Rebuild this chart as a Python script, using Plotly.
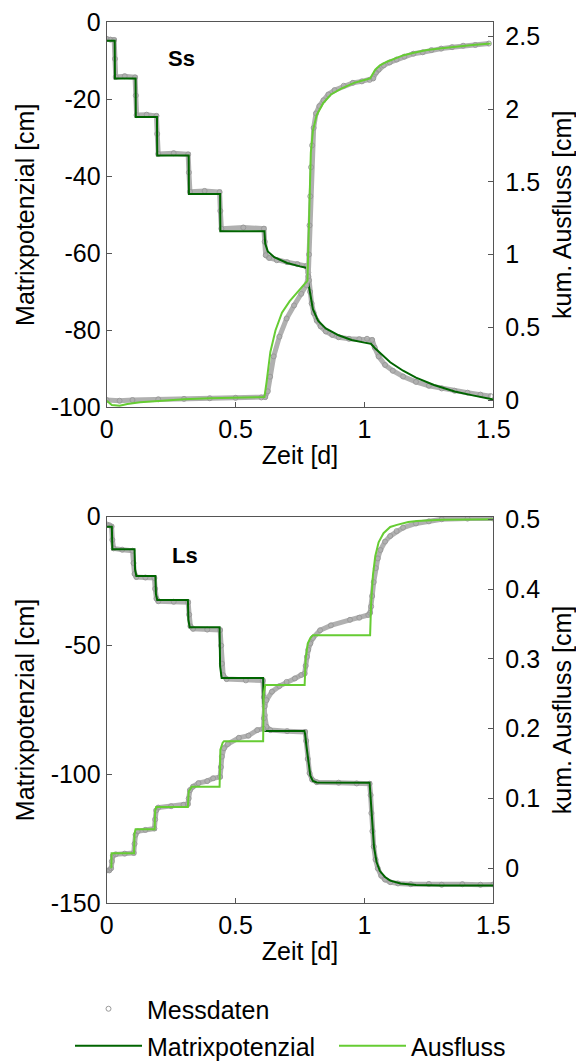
import plotly.graph_objects as go

# ---------------- Data: Ss (top panel) ----------------
ss_meas_pot_t = [0.0, 0.015, 0.029, 0.032, 0.035, 0.07, 0.11, 0.113, 0.116, 0.155, 0.193, 0.196, 0.2,
                 0.26, 0.316, 0.319, 0.323, 0.38, 0.438, 0.441, 0.445, 0.53, 0.61, 0.613, 0.617, 0.63,
                 0.66, 0.7, 0.74, 0.775, 0.782, 0.785, 0.789, 0.795, 0.803, 0.815, 0.83, 0.85, 0.875,
                 0.9, 0.94, 0.98, 1.01, 1.03, 1.04, 1.055, 1.08, 1.11, 1.15, 1.2, 1.25, 1.3, 1.35, 1.4,
                 1.45, 1.49]
ss_meas_pot = [-4.3, -4.5, -4.6, -9.5, -14.2, -14.0, -14.3, -19.0, -24.1, -24.0, -24.3, -29.0, -34.2,
               -34.0, -34.3, -39.0, -44.0, -43.8, -44.1, -49.0, -53.6, -53.3, -53.6, -57.0, -60.5, -61.2,
               -61.8, -62.3, -62.8, -63.3, -65.0, -67.0, -70.0, -73.0, -75.5, -77.5, -79.0, -80.3, -81.2,
               -81.8, -82.2, -82.3, -82.2, -82.5, -84.5, -86.8, -89.0, -90.5, -92.0, -93.4, -94.4, -95.1,
               -95.7, -96.2, -96.7, -97.1]

ss_meas_out_t = [0.0, 0.05, 0.1, 0.2, 0.3, 0.4, 0.5, 0.6, 0.615, 0.625, 0.634, 0.648, 0.67, 0.698,
                 0.727, 0.755, 0.775, 0.782, 0.785, 0.787, 0.79, 0.793, 0.797, 0.803, 0.812, 0.825,
                 0.841, 0.86, 0.884, 0.92, 0.955, 0.99, 1.02, 1.034, 1.045, 1.055, 1.075, 1.098, 1.125,
                 1.155, 1.19, 1.226, 1.26, 1.298, 1.34, 1.383, 1.43, 1.483]
ss_meas_out = [0.0, -0.005, 0.0, 0.005, 0.008, 0.012, 0.015, 0.018, 0.02, 0.06, 0.16, 0.3, 0.435, 0.56,
               0.65, 0.73, 0.79, 0.85, 1.0, 1.2, 1.4, 1.6, 1.75, 1.87, 1.97, 2.02, 2.06, 2.1, 2.13, 2.16,
               2.18, 2.19, 2.2, 2.21, 2.25, 2.27, 2.3, 2.32, 2.34, 2.36, 2.38, 2.39, 2.405, 2.415, 2.425,
               2.435, 2.44, 2.45]

ss_mod_pot_t = [0.0, 0.031, 0.032, 0.112, 0.113, 0.195, 0.196, 0.318, 0.319, 0.44, 0.441, 0.612, 0.615,
                0.625, 0.65, 0.7, 0.75, 0.777, 0.782, 0.79, 0.8, 0.82, 0.85, 0.9, 0.95, 1.0, 1.025,
                1.04, 1.07, 1.1, 1.15, 1.2, 1.27, 1.35, 1.42, 1.5]
ss_mod_pot = [-4.8, -4.8, -14.6, -14.6, -24.6, -24.6, -34.6, -34.6, -44.6, -44.6, -54.3, -54.3, -57.5,
              -59.5, -61.0, -62.5, -63.4, -63.8, -67.5, -71.0, -74.5, -77.5, -79.5, -81.3, -82.5, -83.2,
              -83.5, -84.6, -86.5, -88.3, -90.5, -92.3, -94.2, -95.9, -96.9, -98.0]

ss_mod_out_t = [0.0, 0.02, 0.05, 0.08, 0.13, 0.2, 0.3, 0.4, 0.5, 0.612, 0.62, 0.635, 0.655, 0.68, 0.71,
                0.74, 0.77, 0.779, 0.783, 0.787, 0.792, 0.8, 0.815, 0.84, 0.87, 0.91, 0.96, 1.0, 1.022,
                1.042, 1.06, 1.087, 1.12, 1.152, 1.2, 1.243, 1.3, 1.346, 1.42, 1.49]
ss_mod_out = [-0.005, -0.035, -0.04, -0.027, -0.015, -0.005, 0.005, 0.012, 0.015, 0.02, 0.12, 0.33,
              0.48, 0.6, 0.68, 0.74, 0.8, 0.82, 1.1, 1.45, 1.7, 1.85, 1.96, 2.04, 2.1, 2.14, 2.18, 2.2,
              2.21, 2.27, 2.3, 2.325, 2.35, 2.37, 2.39, 2.405, 2.418, 2.428, 2.44, 2.45]

# ---------------- Data: Ls (bottom panel) ----------------
ls_meas_pot_t = [0.0, 0.01, 0.019, 0.022, 0.027, 0.06, 0.1, 0.104, 0.108, 0.115, 0.15, 0.185, 0.188,
                 0.193, 0.2, 0.26, 0.316, 0.32, 0.325, 0.335, 0.39, 0.44, 0.444, 0.447, 0.452, 0.465,
                 0.54, 0.606, 0.61, 0.613, 0.62, 0.635, 0.7, 0.77, 0.774, 0.78, 0.787, 0.797, 0.815,
                 0.9, 0.97, 1.02, 1.024, 1.027, 1.031, 1.036, 1.043, 1.052, 1.065, 1.08, 1.1, 1.13,
                 1.18, 1.25, 1.3, 1.38, 1.45, 1.5]
ls_meas_pot = [-3.0, -3.3, -3.8, -9.0, -12.3, -12.8, -13.2, -18.0, -22.2, -23.4, -23.6, -23.8, -28.0,
               -31.8, -32.8, -33.0, -33.2, -38.0, -42.5, -43.5, -43.8, -44.0, -50.0, -57.0, -61.5, -63.0,
               -63.5, -63.6, -70.0, -77.0, -81.5, -82.8, -83.2, -83.5, -87.0, -94.0, -99.5, -102.0,
               -103.0, -103.2, -103.5, -103.6, -108.0, -115.0, -122.0, -128.0, -133.0, -136.5, -139.3,
               -140.8, -141.8, -142.3, -142.6, -142.5, -142.8, -142.6, -142.8, -142.7]

ls_meas_out_t = [0.0, 0.01, 0.017, 0.02, 0.024, 0.035, 0.07, 0.105, 0.108, 0.112, 0.12, 0.15, 0.185,
                 0.188, 0.192, 0.2, 0.25, 0.298, 0.315, 0.318, 0.323, 0.335, 0.356, 0.39, 0.413, 0.44,
                 0.443, 0.447, 0.455, 0.47, 0.513, 0.55, 0.584, 0.608, 0.61, 0.613, 0.62, 0.641, 0.67,
                 0.698, 0.73, 0.755, 0.768, 0.772, 0.777, 0.782, 0.79, 0.8, 0.828, 0.87, 0.944, 0.98,
                 1.015, 1.022, 1.026, 1.03, 1.036, 1.044, 1.052, 1.062, 1.08, 1.1, 1.125, 1.15, 1.2,
                 1.25, 1.3, 1.4, 1.5]
ls_meas_out = [-0.003, -0.003, 0.0, 0.01, 0.018, 0.02, 0.021, 0.022, 0.035, 0.048, 0.053, 0.055, 0.057,
               0.07, 0.083, 0.087, 0.089, 0.091, 0.092, 0.1, 0.112, 0.117, 0.122, 0.125, 0.129, 0.131,
               0.145, 0.16, 0.172, 0.178, 0.187, 0.19, 0.198, 0.2, 0.215, 0.232, 0.241, 0.253, 0.261,
               0.267, 0.272, 0.277, 0.279, 0.29, 0.303, 0.313, 0.322, 0.33, 0.341, 0.348, 0.356, 0.359,
               0.363, 0.366, 0.375, 0.39, 0.41, 0.43, 0.444, 0.456, 0.468, 0.476, 0.483, 0.488, 0.494,
               0.497, 0.5, 0.501, 0.501]

ls_mod_pot_t = [0.0, 0.02, 0.022, 0.108, 0.11, 0.115, 0.189, 0.191, 0.196, 0.315, 0.317, 0.322, 0.438,
                0.44, 0.446, 0.607, 0.609, 0.615, 0.767, 0.77, 0.775, 0.782, 0.79, 0.8, 0.815, 1.02,
                1.024, 1.03, 1.037, 1.047, 1.06, 1.08, 1.1, 1.14, 1.2, 1.3, 1.5]
ls_mod_pot = [-3.9, -3.9, -12.6, -12.6, -20.5, -23.0, -23.0, -30.0, -32.3, -32.3, -40.0, -42.9, -42.9,
              -58.0, -62.6, -62.6, -78.0, -83.1, -83.1, -84.5, -89.0, -95.0, -100.5, -102.5, -103.1,
              -103.2, -110.0, -120.0, -128.0, -134.0, -137.5, -139.8, -141.2, -142.3, -142.9, -143.1,
              -143.1]

ls_mod_out_t = [0.018, 0.019, 0.106, 0.108, 0.112, 0.186, 0.188, 0.192, 0.315, 0.318, 0.33, 0.438, 0.441,
                0.45, 0.455, 0.607, 0.609, 0.615, 0.768, 0.772, 0.78, 0.79, 0.8, 1.022, 1.026, 1.033,
                1.042, 1.055, 1.074, 1.1, 1.126, 1.17, 1.204, 1.3, 1.5]
ls_mod_out = [0.0, 0.0215, 0.0215, 0.05, 0.056, 0.056, 0.082, 0.088, 0.088, 0.11, 0.117, 0.117, 0.17,
              0.18, 0.182, 0.182, 0.25, 0.2626, 0.2626, 0.3, 0.322, 0.33, 0.334, 0.334, 0.38, 0.42,
              0.447, 0.467, 0.48, 0.489, 0.492, 0.496, 0.4975, 0.4995, 0.5]

# ---------------- Axis ticks ----------------
x_ticks = [0, 0.5, 1, 1.5]
x_tick_text = ["0", "0.5", "1", "1.5"]
ss_pot_ticks = [-100, -80, -60, -40, -20, 0]
ss_pot_text = ["-100", "-80", "-60", "-40", "-20", "0"]
ss_out_ticks = [0, 0.5, 1, 1.5, 2, 2.5]
ss_out_text = ["0", "0.5", "1", "1.5", "2", "2.5"]
ls_pot_ticks = [-150, -100, -50, 0]
ls_pot_text = ["-150", "-100", "-50", "0"]
ls_out_ticks = [0, 0.1, 0.2, 0.3, 0.4, 0.5]
ls_out_text = ["0", "0.1", "0.2", "0.3", "0.4", "0.5"]

# ---------------- Styling ----------------
FONT = "Liberation Sans, Arial, sans-serif"
DARK = "#006400"
LIGHT = "#66CC33"
GRAY = "#9a9a9a"
BAND = "#b0b0b0"
AX = "#555555"

W, H = 576, 1061
xl, xr = 106.7 / W, 493.3 / W
top_dom = [1 - 407.3 / H, 1 - 22.3 / H]
bot_dom = [1 - 903.3 / H, 1 - 516.7 / H]

fig = go.Figure()


def meas(t, v, xa, ya, legend=False):
    fig.add_trace(go.Scatter(x=t, y=v, xaxis=xa, yaxis=ya, mode="lines",
                             line=dict(color=BAND, width=5), hoverinfo="skip", showlegend=False))
    fig.add_trace(go.Scatter(x=t, y=v, xaxis=xa, yaxis=ya, mode="markers", name="Messdaten",
                             marker=dict(symbol="circle-open", size=5, color=GRAY, line=dict(width=1)),
                             showlegend=legend, legend="legend"))


def model(t, v, xa, ya, color, name, legend=False):
    fig.add_trace(go.Scatter(x=t, y=v, xaxis=xa, yaxis=ya, mode="lines", name=name,
                             line=dict(color=color, width=2), showlegend=legend, legend="legend2"))


# top panel
meas(ss_meas_pot_t, ss_meas_pot, "x", "y")
model(ss_mod_pot_t, ss_mod_pot, "x", "y", DARK, "Matrixpotenzial")
meas(ss_meas_out_t, ss_meas_out, "x", "y2")
model(ss_mod_out_t, ss_mod_out, "x", "y2", LIGHT, "Ausfluss")
# bottom panel
meas(ls_meas_pot_t, ls_meas_pot, "x2", "y3", legend=True)
model(ls_mod_pot_t, ls_mod_pot, "x2", "y3", DARK, "Matrixpotenzial", legend=True)
meas(ls_meas_out_t, ls_meas_out, "x2", "y4")
model(ls_mod_out_t, ls_mod_out, "x2", "y4", LIGHT, "Ausfluss", legend=True)

tickfont = dict(family=FONT, size=25, color="black")
titlefont = dict(family=FONT, size=25, color="black")
common = dict(showline=True, linecolor=AX, linewidth=1, ticks="inside", ticklen=5, tickcolor=AX,
              showgrid=False, zeroline=False, tickfont=tickfont, automargin=False)


def xax(anchor):
    return dict(domain=[xl, xr], anchor=anchor, range=[0, 1.5], tickvals=x_ticks, ticktext=x_tick_text,
                mirror=True, title=dict(text="Zeit [d]", font=titlefont, standoff=4), **common)


def yleft(dom, anchor, rng, tv, tt):
    return dict(domain=dom, anchor=anchor, range=rng, tickvals=tv, ticktext=tt,
                title=dict(text="Matrixpotenzial [cm]", font=titlefont, standoff=8), **common)


def yright(dom, anchor, over, rng, tv, tt):
    return dict(domain=dom, anchor=anchor, overlaying=over, side="right", range=rng,
                tickvals=tv, ticktext=tt, ticklabelstandoff=6,
                title=dict(text="kum. Ausfluss [cm]", font=titlefont, standoff=17), **common)


fig.update_layout(
    width=W, height=H, margin=dict(l=0, r=0, t=0, b=0, autoexpand=False),
    paper_bgcolor="white", plot_bgcolor="white",
    font=dict(family=FONT, color="black"),
    xaxis=xax("y"),
    xaxis2=xax("y3"),
    yaxis=yleft(top_dom, "x", [-100, 0], ss_pot_ticks, ss_pot_text),
    yaxis2=yright(top_dom, "x", "y", [-0.050, 2.596], ss_out_ticks, ss_out_text),
    yaxis3=yleft(bot_dom, "x2", [-150, 0], ls_pot_ticks, ls_pot_text),
    yaxis4=yright(bot_dom, "x2", "y3", [-0.0501, 0.5037], ls_out_ticks, ls_out_text),
    legend=dict(x=70 / W, y=1 - 1009 / H, xanchor="left", yanchor="middle", orientation="h",
                font=dict(family=FONT, size=25, color="black"), bgcolor="rgba(0,0,0,0)",
                itemwidth=67),
    legend2=dict(x=70 / W, y=1 - 1046 / H, xanchor="left", yanchor="middle", orientation="h",
                 font=dict(family=FONT, size=25, color="black"), bgcolor="rgba(0,0,0,0)",
                 itemwidth=67, entrywidth=182),
    annotations=[
        dict(text="<b>Ss</b>", x=0.29, y=-9.5, xref="x", yref="y", showarrow=False,
             font=dict(family=FONT, size=22, color="black")),
        dict(text="<b>Ls</b>", x=0.303, y=-15.2, xref="x2", yref="y3", showarrow=False,
             font=dict(family=FONT, size=22, color="black")),
    ],
)

fig.write_html("out.html")
